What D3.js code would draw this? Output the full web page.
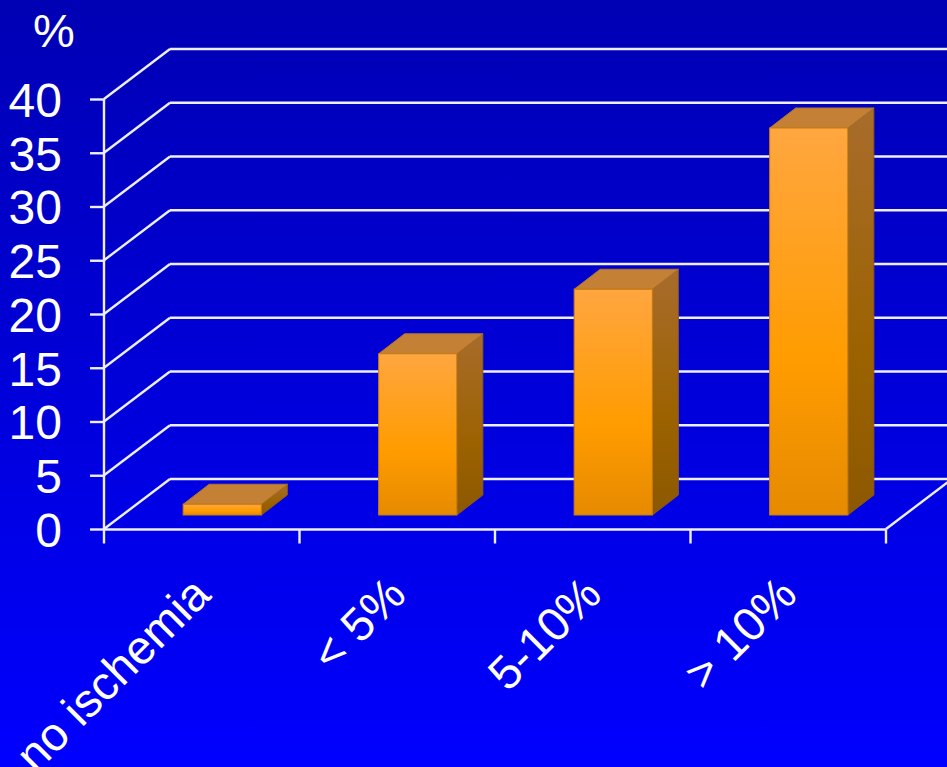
<!DOCTYPE html>
<html><head><meta charset="utf-8">
<script src="https://cdn.jsdelivr.net/npm/d3@7"></script>
<style>html,body{margin:0;padding:0;background:#0000ff;overflow:hidden}svg{display:block}text{font-family:"Liberation Sans",Arial,sans-serif;fill:#fff}</style>
</head><body>
<script>
const categories = ["no ischemia", "< 5%", "5-10%", "> 10%"];
const values = [1, 15, 21, 36];
const yTicks = [0, 5, 10, 15, 20, 25, 30, 35, 40];
const W = 947, H = 767;
const svg = d3.select("body").append("svg").attr("width", W).attr("height", H);
const defs = svg.append("defs");
function grad(id, stops){
  const g = defs.append("linearGradient").attr("id", id).attr("x1",0).attr("y1",0).attr("x2",0).attr("y2",1);
  stops.forEach(s => g.append("stop").attr("offset", s[0]).attr("stop-color", s[1]));
}
grad("bg", [[0,"#0000b4"],[1,"#0000ff"]]);
grad("front", [[0,"#ffa640"],[0.6,"#ff9c00"],[1,"#e68a00"]]);
grad("side", [[0,"#a86c2c"],[0.6,"#9c6200"],[1,"#8c5800"]]);
svg.append("rect").attr("width", W).attr("height", H).attr("fill", "url(#bg)");

const x = d3.scaleBand().domain(categories).range([104, 886]);
const y = d3.scaleLinear().domain([0, 40]).range([529, 99]);
const backDx = 66, backDy = -50;
const barDx = 18.5, barDy = -14;
const depthDx = 26, depthDy = -20;
const barW = x.bandwidth() * 0.4;
const lineCol = "#eeeeff", lineW = 2.4;

const grid = svg.append("g").attr("stroke", lineCol).attr("stroke-width", lineW).attr("fill", "none");
yTicks.forEach(t => {
  grid.append("line").attr("x1", 104).attr("y1", y(t)).attr("x2", 104 + backDx).attr("y2", y(t) + backDy);
  grid.append("line").attr("x1", 104 + backDx).attr("y1", y(t) + backDy).attr("x2", 886 + backDx).attr("y2", y(t) + backDy);
});
grid.append("line").attr("x1", 886).attr("y1", y(0)).attr("x2", 886 + backDx).attr("y2", y(0) + backDy);

const yAxis = d3.axisLeft(y).tickValues(yTicks).tickSize(14).tickPadding(28).tickFormat(d3.format("d"));
const gy = svg.append("g").attr("transform", "translate(104,0)").call(yAxis);
gy.selectAll("line,path").attr("stroke", lineCol).attr("stroke-width", lineW);
gy.select("path").attr("d", `M0,${y(40)}V${y(0)}`);
gy.selectAll("text").attr("font-size", 48).attr("fill", "#fff").attr("text-anchor", "end").attr("dy", "0.36em")
  .attr("font-family", "Liberation Sans");

const xAxis = d3.axisBottom(d3.scaleLinear().domain([0, categories.length]).range([103.5, 885.5]))
  .tickValues(d3.range(categories.length + 1)).tickSize(14).tickFormat("");
const gx = svg.append("g").attr("transform", "translate(0,529.5)").call(xAxis);
gx.selectAll("line,path").attr("stroke", lineCol).attr("stroke-width", lineW);
gx.select("path").attr("d", "M104,0H886");

const bars = svg.append("g").selectAll("g").data(categories.map((c, i) => ({c, v: values[i]}))).join("g");
const pts = a => a.map(p => p.join(",")).join(" ");
bars.each(function(d){
  const g = d3.select(this);
  const x0 = x(d.c) + (x.bandwidth() - barW) / 2 + barDx + 2, x1 = x0 + barW;
  const b = y(0) + barDy, t = y(d.v) + barDy;
  g.append("polygon").attr("points", pts([[x1,t],[x1+depthDx,t+depthDy],[x1+depthDx,b+depthDy],[x1,b]]))
    .attr("fill", "url(#side)").attr("stroke", "#8c5a10").attr("stroke-width", 1);
  g.append("polygon").attr("points", pts([[x0,t],[x0+depthDx,t+depthDy],[x1+depthDx,t+depthDy],[x1,t]]))
    .attr("fill", "#c48035").attr("stroke", "#b07428").attr("stroke-width", 1);
  g.append("rect").attr("x", x0).attr("y", t).attr("width", barW).attr("height", b - t)
    .attr("fill", "url(#front)").attr("stroke", "#c87c10").attr("stroke-width", 1);
});

svg.append("g").selectAll("text").data(categories).join("text")
  .attr("text-anchor", "end").attr("font-size", 47)
  .attr("transform", d => `translate(${x(d) + x.bandwidth()/2 + 11},597) rotate(-45)`)
  .text(d => d);

svg.append("text").attr("x", 33).attr("y", 47).attr("font-size", 47).text("%");
</script>
</body></html>
